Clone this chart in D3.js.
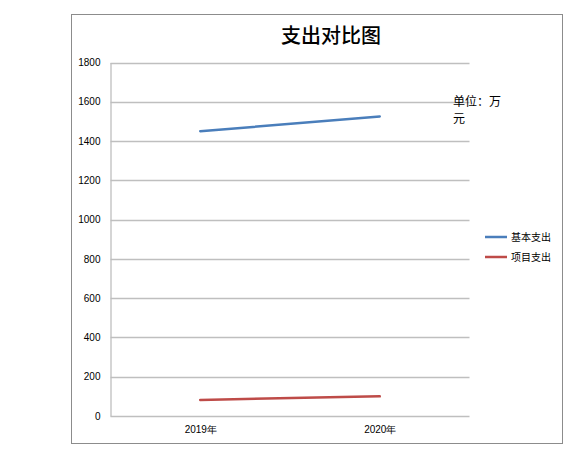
<!DOCTYPE html>
<html>
<head>
<meta charset="utf-8">
<script src="https://cdn.jsdelivr.net/npm/d3@7"></script>
<style>
  body { margin: 0; background: #fff; }
  svg { display: block; font-family: "Noto Sans CJK SC", "DejaVu Sans", sans-serif; }
</style>
</head>
<body>
<div id="chart"></div>
<script>
// data
const years = ['2019年', '2020年'];
const basic = [1450, 1525];    // 基本支出
const project = [82, 100];     // 项目支出
const seriesNames = ['基本支出', '项目支出'];
const yTicks = [0, 200, 400, 600, 800, 1000, 1200, 1400, 1600, 1800];

const width = 570, height = 460;
let margin = {top: 62.5, left: 110.5, right: 100.5, bottom: 44};
let colors = ['#4a7ebb', '#be4b48'];

let svg = d3.select('#chart').append('svg')
  .attr('width', width)
  .attr('height', height);

// outer frame
svg.append('rect')
  .attr('x', 71.5).attr('y', 14.5)
  .attr('width', 491).attr('height', 429)
  .attr('fill', 'none')
  .attr('stroke', '#8c8c8c');

let x = d3.scalePoint().domain(years)
  .range([margin.left, width - margin.right]).padding(0.5);
let y = d3.scaleLinear().domain([0, 1800])
  .range([height - margin.bottom, margin.top]);

// gridlines
svg.append('g')
  .selectAll('line')
  .data(yTicks)
  .join('line')
    .attr('x1', margin.left).attr('x2', width - margin.right)
    .attr('y1', d => Math.round(y(d)) + 0.5).attr('y2', d => Math.round(y(d)) + 0.5)
    .attr('stroke', '#bfbfbf')
    .attr('stroke-width', 1.3);

// y axis
let yAxis = svg.append('g')
  .attr('transform', `translate(${margin.left},0)`)
  .call(d3.axisLeft(y).tickValues(yTicks).tickFormat(d3.format('d')).tickSize(0).tickPadding(10));
yAxis.select('.domain').attr('stroke', '#bfbfbf').attr('stroke-width', 1.3);
yAxis.selectAll('text').attr('font-size', 10).attr('fill', '#000');

// x axis
let xAxis = svg.append('g')
  .attr('transform', `translate(0,${height - margin.bottom})`)
  .call(d3.axisBottom(x).tickSize(0).tickPadding(10));
xAxis.select('.domain').remove();
xAxis.selectAll('text').attr('font-size', 10).attr('fill', '#000');

// lines
let line = d3.line()
  .x((d, i) => x(years[i]))
  .y(d => y(d));

[basic, project].forEach((vals, k) => {
  svg.append('path')
    .datum(vals)
    .attr('d', line)
    .attr('fill', 'none')
    .attr('stroke', colors[k])
    .attr('stroke-width', 2.5)
    .attr('stroke-linecap', 'round');
});

// title
svg.append('text')
  .attr('x', 331).attr('y', 43)
  .attr('text-anchor', 'middle')
  .attr('font-size', 20)
  .attr('font-weight', 500)
  .attr('fill', '#000')
  .text('支出对比图');

// unit note
svg.append('text')
  .attr('x', 453).attr('y', 106)
  .attr('font-size', 12)
  .attr('fill', '#000')
  .text('单位：万');
svg.append('text')
  .attr('x', 453).attr('y', 123)
  .attr('font-size', 12)
  .attr('fill', '#000')
  .text('元');

// legend
let legend = svg.append('g')
  .selectAll('g')
  .data(seriesNames)
  .join('g')
    .attr('transform', (d, i) => `translate(485,${237 + i * 20})`);
legend.append('line')
  .attr('x1', 0).attr('x2', 22)
  .attr('stroke', (d, i) => colors[i])
  .attr('stroke-width', 2.5);
legend.append('text')
  .attr('x', 26).attr('dy', '0.35em')
  .attr('font-size', 10)
  .attr('fill', '#000')
  .text(d => d);
</script>
</body>
</html>
